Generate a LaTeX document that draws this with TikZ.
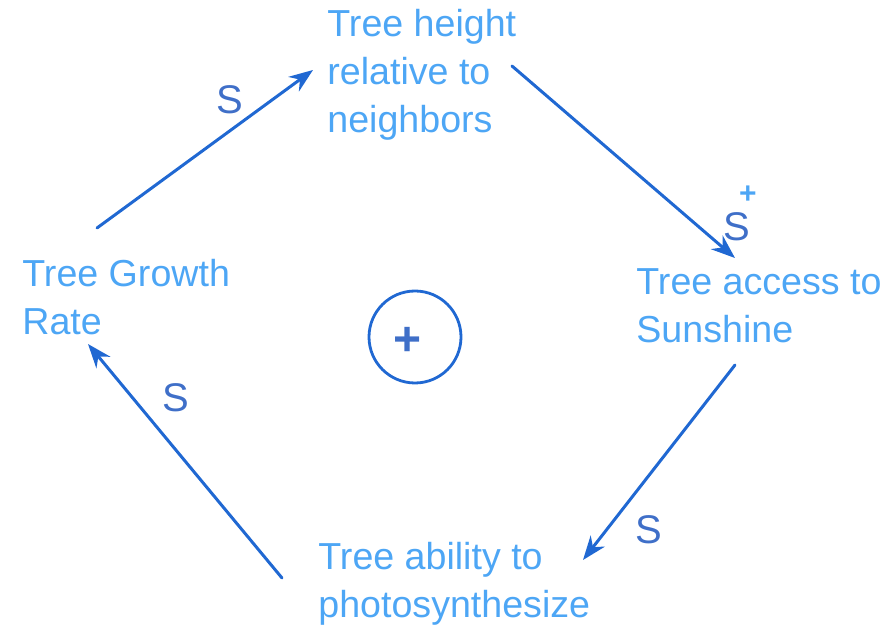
\documentclass[tikz,border=0pt]{standalone}
\usepackage{fontspec}
\setmainfont{Liberation Sans}
\usepackage{xcolor}
\usetikzlibrary{arrows.meta}
\definecolor{cldText}{HTML}{4DA6F5}
\definecolor{cldSign}{HTML}{3F6FC8}
\definecolor{cldArrow}{HTML}{2068D2}
\tikzset{
  cld diagram/.style={line cap=round, line join=round},
  cld var/.style={font=\fontsize{18.8}{24}\selectfont, text=cldText,
    anchor=north west, align=left, inner sep=0pt},
  cld arrow/.style={-{Stealth[length=12pt,width=9pt]}, draw=cldArrow, line width=1.5pt},
  cld sign/.style={font=\fontsize{20}{24}\selectfont, text=cldSign, inner sep=0pt},
  cld loop/.style={circle, draw=cldArrow, line width=1.4pt, minimum size=46pt, inner sep=0pt}
}
\begin{document}
\begin{tikzpicture}[cld diagram,x=0.5pt,y=-0.5pt]
\useasboundingbox (0,0) rectangle (889,630);
\node[cld var] (height) at (327,9) {Tree height\\relative to\\neighbors};
\node[cld var] (access) at (636,268) {Tree access to\\Sunshine};
\node[cld var] (growth) at (22,259) {Tree Growth\\Rate};
\node[cld var] (ability) at (318,542) {Tree ability to\\photosynthesize};
\node[cld loop] (loop) at (415,337) {};
\node[cld sign,font=\fontsize{24}{24}\bfseries] (loopsign) at (408,341) {+};
% links
\draw[cld arrow] ([shift={(75,-31)}]growth.north west) -- ([shift={(-14,61)}]height.north west);
\draw[cld arrow] ([shift={(185,57)}]height.north west) -- ([shift={(99,-10)}]access.north west);
\draw[cld arrow] ([shift={(99,97)}]access.north west) -- ([shift={(265,18)}]ability.north west);
\draw[cld arrow] ([shift={(-36,36)}]ability.north west) -- ([shift={(66,85)}]growth.north west);
% polarities
\node[cld sign] (s1) at (230,100) {S};
\node[cld sign] (s2) at (737,227) {S};
\node[cld sign,text=cldText,font=\fontsize{15}{16}\bfseries] (s2plus) at (748,195) {+};
\node[cld sign] (s3) at (649,530) {S};
\node[cld sign] (s4) at (176,398) {S};
\end{tikzpicture}
\end{document}
